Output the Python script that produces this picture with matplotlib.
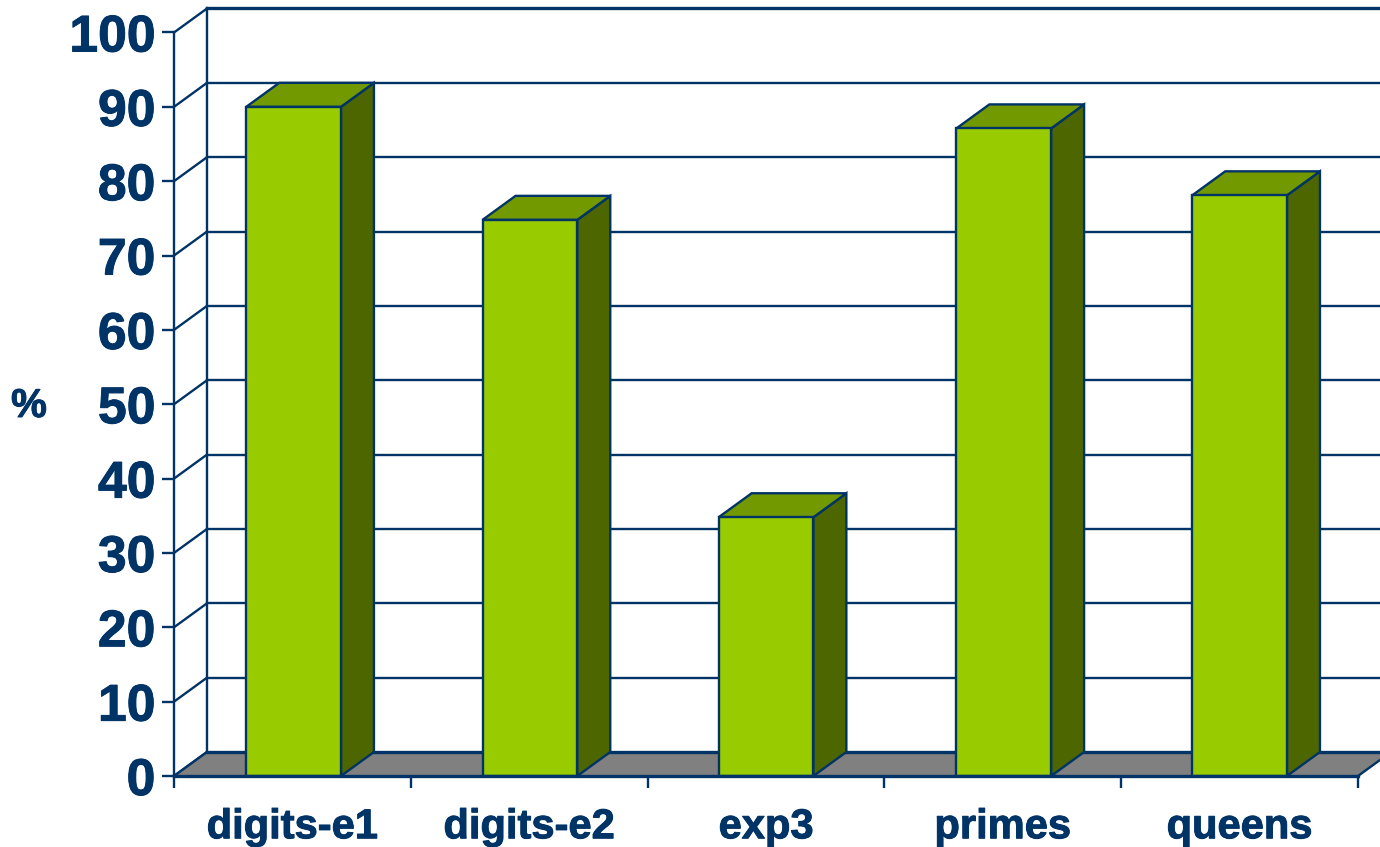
import matplotlib
matplotlib.use("Agg")
import matplotlib.pyplot as plt
import matplotlib.patheffects as pe
from matplotlib.patches import Polygon, Rectangle

categories = ["digits-e1", "digits-e2", "exp3", "primes", "queens"]
values = [90.0, 74.8, 34.8, 87.1, 78.1]
y_ticks = list(range(0, 101, 10))

NAVY = "#003366"
FRONT = "#99CC00"
TOP = "#739900"
SIDE = "#4D6600"
FLOOR = "#808080"

W, H = 1380, 847
LEFT, RIGHT, BOTTOM, TOP_PX = 174, 1358, 776, 32.5
BAR_WIDTH = 0.40
LW = 1.7

# the bars do not sit quite centred on their category
bar_shift = [0.005, 0.003, 0.0, 0.004, 0.0]

plt.rcParams["font.family"] = ["Liberation Sans", "DejaVu Sans"]
plt.rcParams["font.weight"] = "bold"

fig = plt.figure(figsize=(W / 100, H / 100), dpi=100)
ax = fig.add_axes([LEFT / W, (H - BOTTOM) / H, (RIGHT - LEFT) / W, (BOTTOM - TOP_PX) / H])
ax.set_xlim(0, len(categories))
ax.set_ylim(0, 100)

# depth of the box in data units
dx = 33 / ((RIGHT - LEFT) / len(categories))
dy = 24 / ((BOTTOM - TOP_PX) / 100)
xmax = len(categories)

# back wall grid and the diagonals on the left wall
for t in y_ticks:
    lw = 2.4 if t == 100 else LW
    if t > 0:
        ax.plot([dx, xmax + dx], [t + dy, t + dy], color=NAVY, lw=lw, zorder=1, clip_on=False)
    ax.plot([0, dx], [t, t + dy], color=NAVY, lw=LW, zorder=1, clip_on=False)
ax.plot([dx, dx], [dy, 100 + dy], color=NAVY, lw=LW, zorder=1, clip_on=False)

# floor
ax.add_patch(Polygon([(0, 0), (dx, dy), (xmax + dx, dy), (xmax, 0)], closed=True,
                     facecolor=FLOOR, edgecolor="none", zorder=2, clip_on=False))
ax.plot([dx, xmax + dx], [dy, dy], color=NAVY, lw=2.4, zorder=3, clip_on=False)
ax.plot([xmax, xmax + dx], [0, dy], color=NAVY, lw=LW, zorder=3, clip_on=False)
ax.plot([0, dx], [0, dy], color=NAVY, lw=LW, zorder=3, clip_on=False)

# bars: side and top faces first, front on top
for i, v in enumerate(values):
    x0 = i + 0.5 + bar_shift[i] - BAR_WIDTH / 2
    x1 = x0 + BAR_WIDTH
    ax.add_patch(Polygon([(x1, 0), (x1 + dx, dy), (x1 + dx, v + dy), (x1, v)], closed=True,
                         facecolor=SIDE, edgecolor=NAVY, lw=LW, zorder=4, clip_on=False))
    ax.add_patch(Polygon([(x0, v), (x0 + dx, v + dy), (x1 + dx, v + dy), (x1, v)], closed=True,
                         facecolor=TOP, edgecolor=NAVY, lw=LW, zorder=4, clip_on=False))
    ax.add_patch(Rectangle((x0, 0), BAR_WIDTH, v, facecolor=FRONT, edgecolor=NAVY,
                           lw=LW, zorder=5, clip_on=False))

for name in ["top", "right"]:
    ax.spines[name].set_visible(False)
for name in ["left", "bottom"]:
    ax.spines[name].set_color(NAVY)
ax.spines["left"].set_linewidth(LW)
ax.spines["left"].set_zorder(6)
ax.spines["bottom"].set_linewidth(2.4)
ax.spines["bottom"].set_zorder(6)
ax.patch.set_visible(False)

ax.set_yticks(y_ticks)
ax.set_yticklabels([str(t) for t in y_ticks], fontsize=37.2, fontweight="bold", color=NAVY)
ax.tick_params(axis="y", length=8.5, width=LW, color=NAVY, pad=5)

# ticks sit between the categories, labels in the middle
ax.set_xticks(range(len(categories) + 1))
ax.set_xticklabels([])
ax.set_xticks([i + 0.5 for i in range(len(categories))], minor=True)
ax.set_xticklabels(categories, minor=True, fontsize=30, fontweight="bold", color=NAVY)
ax.tick_params(axis="x", which="major", length=8.5, width=LW, color=NAVY)
ax.tick_params(axis="x", which="minor", length=0, pad=22.5)

pct = fig.text(29 / W, 1 - 406 / H, "%", fontsize=29, fontweight="bold", color=NAVY,
               ha="center", va="center")

# slightly heavier glyphs than the plain bold face
heavy = [pe.withStroke(linewidth=0.7, foreground=NAVY)]
for label in ax.get_yticklabels() + ax.get_xticklabels(minor=True) + [pct]:
    label.set_path_effects(heavy)

fig.savefig("out.png", dpi=100, facecolor="white")
